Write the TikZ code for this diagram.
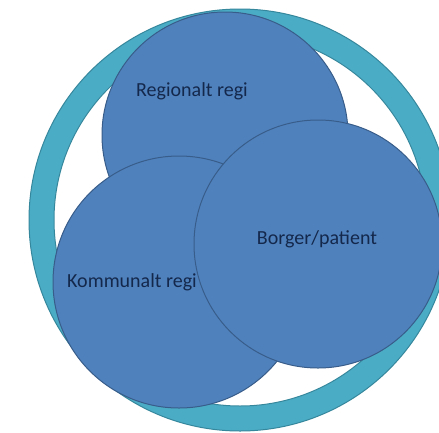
\documentclass[tikz,border=0pt]{standalone}
\usepackage{fontspec}
\setmainfont{Carlito}
\definecolor{ringteal}{HTML}{4BACC6}
\definecolor{ringline}{HTML}{35879C}
\definecolor{setblue}{HTML}{4F81BD}
\definecolor{setline}{HTML}{385D8A}
\definecolor{settext}{HTML}{14284B}
\begin{document}
\begin{tikzpicture}[x=1pt, y=-1pt,
	ring/.style={draw=ringline, circle, line width=1pt, inner sep=0pt},
	area/.style={draw=setline, circle, fill=setblue, line width=1pt, inner sep=0pt},
	areatext/.style={text=settext, inner sep=0pt, font=\fontsize{20}{24}\selectfont}]
				\useasboundingbox[fill=white] (0, 0) rectangle (439, 432);
				% ring round the whole
				\node[ring, fill=ringteal, minimum size=422pt] (outer)at(240, 220) {};
				\node[ring, fill=white, minimum size=372pt] (inner)at(240, 220) {};
				% the three areas
				\node[area, minimum size=246pt] (R)at(225, 135) {};
				\node[area, minimum size=252pt] (K)at(179, 282) {};
				\node[area, minimum size=248pt] (B)at(318, 244) {};
				\node[areatext] (Rtxt)at(192, 91) {Regionalt regi};
				\node[areatext] (Btxt)at(317, 239) {Borger/patient};
				\node[areatext] (Ktxt)at(132, 282) {Kommunalt regi};
			\end{tikzpicture}
\end{document}
